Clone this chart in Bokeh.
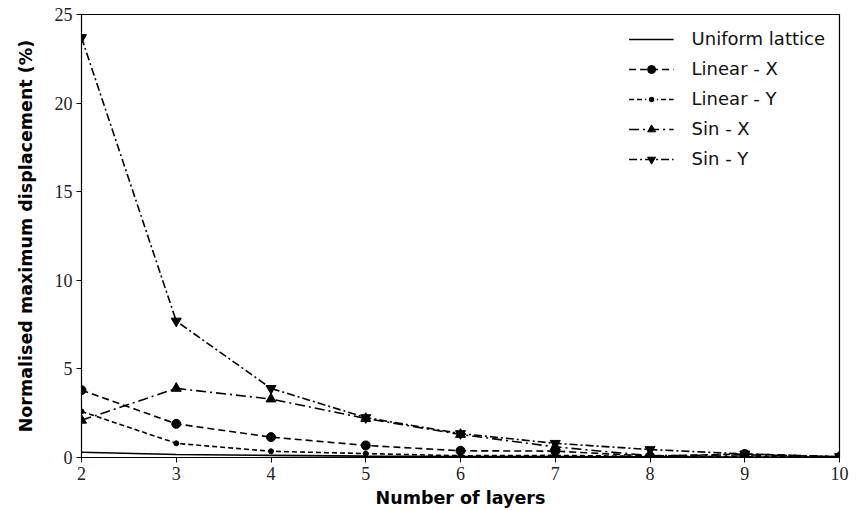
from bokeh.plotting import figure
from bokeh.models import Legend, LegendItem, Range1d, FixedTicker
from bokeh.embed import file_html
from bokeh.resources import INLINE

layers = [2, 3, 4, 5, 6, 7, 8, 9, 10]
uniform = [0.3, 0.17, 0.12, 0.08, 0.06, 0.05, 0.04, 0.03, 0.02]
linear_x = [3.8, 1.9, 1.15, 0.68, 0.38, 0.36, 0.08, 0.2, 0.03]
linear_y = [2.6, 0.8, 0.35, 0.22, 0.1, 0.12, 0.06, 0.05, 0.02]
sin_x = [2.1, 3.9, 3.3, 2.2, 1.3, 0.6, 0.1, 0.15, 0.05]
sin_y = [23.7, 7.7, 3.9, 2.25, 1.35, 0.8, 0.45, 0.2, 0.05]
y_ticks = [0, 5, 10, 15, 20, 25]

p = figure(width=858, height=508, output_backend="svg", toolbar_location=None,
           x_range=Range1d(2, 10), y_range=Range1d(0, 25),
           min_border_left=81, min_border_right=19, min_border_top=14, min_border_bottom=51)
p.frame_width = 758
p.frame_height = 443
p.xgrid.visible = False
p.ygrid.visible = False
p.outline_line_color = "black"
p.outline_line_width = 1.2
p.background_fill_color = "white"
p.border_fill_color = "white"

for ax in (p.xaxis[0], p.yaxis[0]):
    ax.major_label_text_font = "Liberation Serif"
    ax.major_label_text_font_size = "18px"
    ax.major_label_text_color = "#222222"
    ax.axis_label_text_font = "DejaVu Sans"
    ax.axis_label_text_font_style = "bold"
    ax.axis_label_text_font_size = "17.5px"
    ax.axis_label_text_color = "black"
    ax.major_tick_in = 0
    ax.major_tick_out = 5
    ax.minor_tick_line_color = None
    ax.axis_line_color = "black"
    ax.major_tick_line_color = "black"

p.xaxis.ticker = FixedTicker(ticks=layers)
p.yaxis.ticker = FixedTicker(ticks=y_ticks)
p.xaxis.axis_label = "Number of layers"
p.yaxis.axis_label = "Normalised maximum displacement (%)"
p.xaxis.major_label_standoff = 4
p.xaxis.axis_label_standoff = 5
p.yaxis.major_label_standoff = 4
p.yaxis.axis_label_standoff = 16

lw = 1.6
items = []

r = p.line(layers, uniform, line_color="black", line_width=lw)
items.append(LegendItem(label="Uniform lattice", renderers=[r]))

r1 = p.line(layers, linear_x, line_color="black", line_width=lw, line_dash="7 4")
s1 = p.scatter(layers, linear_x, marker="circle", size=9, color="black")
items.append(LegendItem(label="Linear - X", renderers=[r1, s1]))

r2 = p.line(layers, linear_y, line_color="black", line_width=lw, line_dash="5 3")
s2 = p.scatter(layers, linear_y, marker="circle", size=5, color="black")
# legend-only small dot (not drawn in the plot: NaN position)
s2_leg = p.scatter(x=[float("nan")], y=[float("nan")], marker="circle", size=5,
                   fill_color="black", line_color="white", line_width=2.6)
items.append(LegendItem(label="Linear - Y", renderers=[r2, s2_leg]))

r3 = p.line(layers, sin_x, line_color="black", line_width=lw, line_dash="10 4 2 4")
s3 = p.scatter(layers, sin_x, marker="triangle", size=10, color="black")
items.append(LegendItem(label="Sin - X", renderers=[r3, s3]))

r4 = p.line(layers, sin_y, line_color="black", line_width=lw, line_dash="8 3 2 3")
s4 = p.scatter(layers, sin_y, marker="inverted_triangle", size=10, color="black")
items.append(LegendItem(label="Sin - Y", renderers=[r4, s4]))

legend = Legend(items=items, location="top_right")
legend.border_line_color = None
legend.background_fill_alpha = 0
legend.label_text_font = "DejaVu Sans"
legend.label_text_font_size = "18px"
legend.label_text_color = "#111111"
legend.glyph_width = 45
legend.glyph_height = 20
legend.spacing = 9
legend.label_standoff = 18
legend.margin = 14
legend.padding = 12
p.add_layout(legend)

open("out.html", "w").write(file_html(p, INLINE))
